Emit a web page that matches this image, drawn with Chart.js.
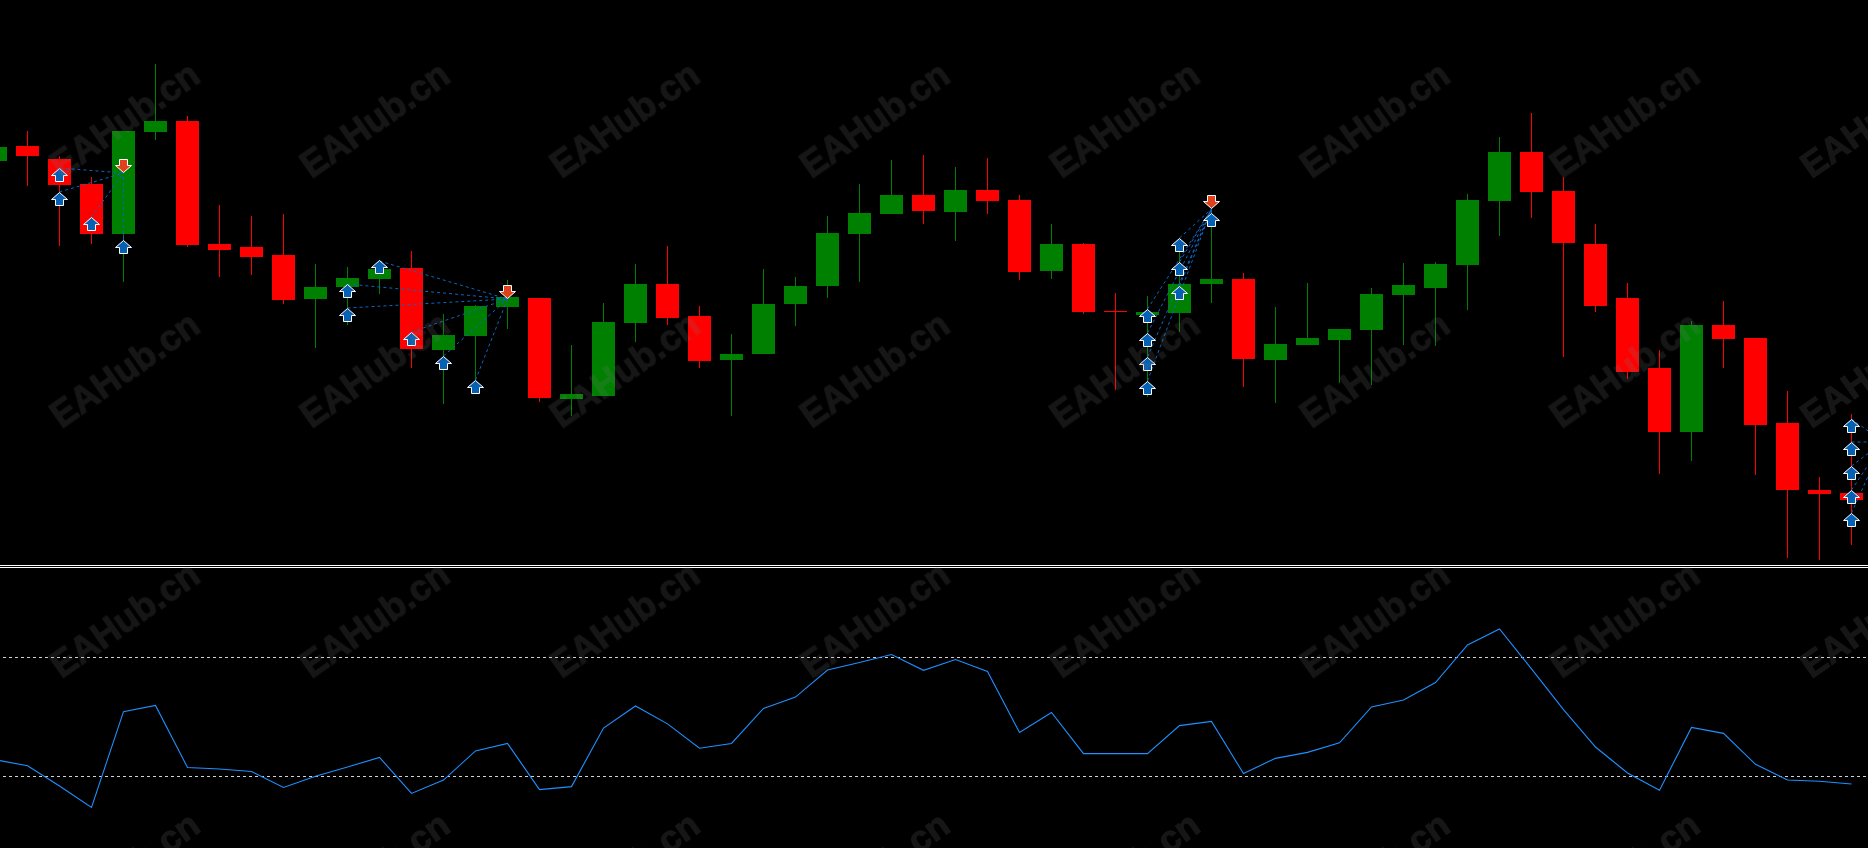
<!DOCTYPE html>
<html>
<head>
<meta charset="utf-8">
<title>EAHub.cn</title>
<script src="https://cdn.jsdelivr.net/npm/chart.js@4"></script>
<style>
  html, body { margin: 0; padding: 0; background: #000; overflow: hidden; }
  #page { position: relative; width: 1868px; height: 848px; overflow: hidden; background: #000; }
  canvas { position: absolute; left: 0; display: block; }
  #priceChart { top: 0; }
  #rsiChart { top: 568px; }
  .sep { position: absolute; left: 0; width: 1868px; height: 1px; background: #fff; }
  .mark {
    position: absolute;
    font: bold 36px "Liberation Sans", Arial, sans-serif;
    color: rgb(120, 120, 120);
    -webkit-text-stroke: 1px rgb(120, 120, 120);
    opacity: 0.19;
    white-space: nowrap;
    transform: translate(-50%, -50%) rotate(-35deg);
    pointer-events: none;
  }
</style>
</head>
<body>
<div id="page">
  <canvas id="priceChart" width="1868" height="565"></canvas>
  <div class="sep" style="top:565px"></div>
  <div class="sep" style="top:567px"></div>
  <canvas id="rsiChart" width="1868" height="280"></canvas>
</div>
<script>
// Bar numbers, first one is cut off by the left edge
const bars = [-1,0,1,2,3,4,5,6,7,8,9,10,11,12,13,14,15,16,17,18,19,20,21,22,23,24,25,26,27,28,29,30,31,32,33,34,35,36,37,38,39,40,41,42,43,44,45,46,47,48,49,50,51,52,53,54,55,56,57];

// Candles, price in points
const opens  = [404,419,406,381,331,433,444,321,318,310,266,278,286,297,215,229,258,267,166,169,242,281,249,205,211,261,279,331,351,370,353,375,365,294,321,254,250,252,281,286,205,220,225,235,270,277,300,364,413,374,321,267,197,133,240,227,142,75,72];
const closes = [418,409,380,331,434,444,320,315,308,265,278,287,296,216,230,259,268,167,171,243,281,247,204,211,261,279,332,352,370,354,375,364,293,321,253,253,253,281,286,206,221,227,236,271,280,301,365,413,373,322,259,193,133,240,226,140,75,71,65];
const highs  = [418,434,409,388,434,501,449,360,349,351,301,298,305,314,251,260,285,267,220,262,301,319,259,231,296,288,349,381,405,410,398,407,370,341,322,272,269,327,357,292,258,282,236,277,302,303,371,428,452,388,341,282,215,244,264,227,174,88,151];
const lows   = [404,379,319,321,283,425,318,288,290,261,217,240,271,197,161,185,236,163,149,169,223,240,197,149,211,239,267,283,351,341,324,351,285,286,251,175,168,233,262,178,162,220,182,180,220,219,255,329,347,208,253,186,91,104,197,90,7,5,20];

// RSI per bar
const rsi = [35.6,33.6,26.8,19.6,51.8,53.9,33.0,32.5,31.7,26.3,30.1,33.2,36.4,24.3,28.8,38.6,41.1,25.6,26.6,46.3,53.7,47.7,39.5,41.1,52.9,56.7,65.8,68.3,71.0,65.7,69.3,65.3,44.8,51.5,37.7,37.7,37.7,47.1,48.5,31.0,36.1,38.1,41.3,53.4,55.7,61.6,74.2,79.6,66.2,52.5,39.9,31.2,25.4,46.5,44.5,34.1,28.8,28.4,27.5];
const rsiLevels = [70, 30];

// Trade arrows [bar, price]
const buyArrows = [[1,390],[1,366],[2,341],[3,318],[10,274],[10,250],[11,298],[12,226],[13,202],[14,178],[35,249],[35,225],[35,201],[35,177],[36,320],[36,296],[36,272],[37,345],[57,139],[57,116],[57,92],[57,68],[57,45]];
const sellArrows = [[3,399],[15,273],[37,363]];

// Dashed trade lines [entry bar, entry price, exit bar, exit price]
const tradeLinks = [
  [1,397,3,392],[1,373,3,392],[2,348,3,392],[3,325,3,392],
  [10,281,15,266],[10,257,15,266],[11,304,15,266],[12,233,15,266],[13,209,15,266],[14,185,15,266],
  [35,256,37,356],[35,232,37,356],[35,208,37,356],[35,184,37,356],[36,327,37,356],[36,303,37,356],[36,279,37,356],[37,352,37,356],
  [57,146,58,123],[57,123,58,123],[57,99,58,123],[57,75,58,123],[57,52,58,123]
];

const UP = "#008000";
const DOWN = "#ff0000";
const xMin = -27.5 / 32;
const xMax = (1868 - 27.5) / 32;

// MT4 style arrow icon, used as pointStyle
function makeArrow(fill, pointsDown) {
  const c = document.createElement("canvas");
  c.width = 17;
  c.height = 14;
  const g = c.getContext("2d");
  if (pointsDown) {
    g.translate(0, 14);
    g.scale(1, -1);
  }
  g.beginPath();
  g.moveTo(8.5, 0.5);
  g.lineTo(16.5, 7.5);
  g.lineTo(12.5, 7.5);
  g.lineTo(12.5, 13.5);
  g.lineTo(4.5, 13.5);
  g.lineTo(4.5, 7.5);
  g.lineTo(0.5, 7.5);
  g.closePath();
  g.fillStyle = fill;
  g.fill();
  g.strokeStyle = "#fff";
  g.lineWidth = 1;
  g.stroke();
  return c;
}

const candleColors = opens.map((o, i) => (closes[i] >= o ? UP : DOWN));

const hiddenAxis = (min, max) => ({ type: "linear", display: false, offset: false, min, max, grid: { display: false } });

const baseOptions = (yMin, yMax) => ({
  responsive: false,
  animation: false,
  devicePixelRatio: 1,
  layout: { padding: 0, autoPadding: false },
  plugins: { legend: { display: false }, tooltip: { enabled: false } },
  scales: { x: hiddenAxis(xMin, xMax), y: hiddenAxis(yMin, yMax) },
});

const priceDatasets = [
  {
    type: "bar",
    label: "Wicks",
    data: bars.map((b, i) => ({ x: b, y: [lows[i], highs[i]] })),
    backgroundColor: candleColors,
    barThickness: 1,
    grouped: false,
    borderWidth: 0,
    inflateAmount: 0,
    order: 4,
  },
  {
    type: "bar",
    label: "Bodies",
    data: bars.map((b, i) => ({ x: b, y: [opens[i], closes[i]] })),
    backgroundColor: candleColors,
    barThickness: 23,
    grouped: false,
    borderWidth: 0,
    inflateAmount: 0,
    order: 3,
  },
];

tradeLinks.forEach((l) => {
  priceDatasets.push({
    type: "line",
    data: [{ x: l[0], y: l[1] }, { x: l[2], y: l[3] }],
    borderColor: "#0b66c3",
    borderWidth: 1,
    borderDash: [3, 3],
    pointRadius: 0,
    tension: 0,
    order: 2,
  });
});

priceDatasets.push({
  type: "line",
  label: "Buy",
  data: buyArrows.map((a) => ({ x: a[0], y: a[1] })),
  showLine: false,
  pointStyle: makeArrow("#0660b4", false),
  pointRadius: 8,
  order: 1,
});
priceDatasets.push({
  type: "line",
  label: "Sell",
  data: sellArrows.map((a) => ({ x: a[0], y: a[1] })),
  showLine: false,
  pointStyle: makeArrow("#e0401c", true),
  pointRadius: 8,
  order: 1,
});

new Chart(document.getElementById("priceChart"), {
  data: { datasets: priceDatasets },
  options: baseOptions(0, 565),
});

const rsiDatasets = rsiLevels.map((level) => ({
  type: "line",
  data: [{ x: xMin, y: level }, { x: xMax, y: level }],
  borderColor: "#d2d2d2",
  borderWidth: 1,
  borderDash: [3, 3],
  borderDashOffset: 3,
  pointRadius: 0,
  order: 2,
}));
rsiDatasets.push({
  type: "line",
  label: "RSI",
  data: bars.map((b, i) => ({ x: b, y: rsi[i] })),
  borderColor: "#1e90ff",
  borderWidth: 1.1,
  pointRadius: 0,
  tension: 0,
  order: 1,
});

new Chart(document.getElementById("rsiChart"), {
  data: { datasets: rsiDatasets },
  options: baseOptions(5.966, 100.084),
});

// Watermark on top of everything
const page = document.getElementById("page");
for (let row = 0; row < 4; row++) {
  for (let col = 0; col < 8; col++) {
    const m = document.createElement("div");
    m.className = "mark";
    m.textContent = "EAHub.cn";
    m.style.left = 125 + col * 250 + "px";
    m.style.top = 120 + row * 250 + "px";
    page.appendChild(m);
  }
}
</script>
</body>
</html>
